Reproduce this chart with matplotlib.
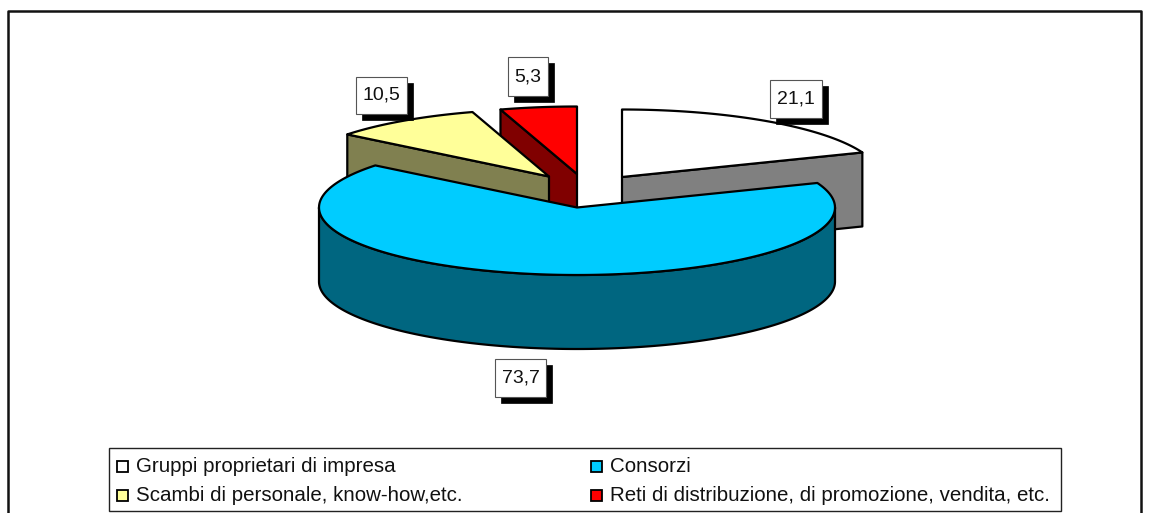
import numpy as np
import matplotlib
matplotlib.use("Agg")
import matplotlib.pyplot as plt
from matplotlib.patches import Polygon, Rectangle

plt.rcParams['font.family'] = ['Liberation Sans', 'DejaVu Sans']

categories = ["Gruppi proprietari di impresa", "Consorzi",
              "Scambi di personale, know-how,etc.",
              "Reti di distribuzione, di promozione, vendita, etc."]
values = [21.1, 73.7, 10.5, 5.3]
value_labels = ["21,1", "73,7", "10,5", "5,3"]
top_colors = ["#FFFFFF", "#00CCFF", "#FFFF99", "#FF0000"]
side_colors = ["#808080", "#006680", "#808050", "#800000"]

# pie layout, in pixels
rx, ry, depth = 258, 67.5, 74
centers = [(622, 177), (577, 207.5), (549, 176.5), (577, 174)]
boxes = [(770, 80, 52, 38), (495, 359, 51, 38), (356, 77, 51, 37), (508, 57, 40, 39)]
lw = 1.6

fig = plt.figure(figsize=(11.5, 5.13), dpi=100)
ax = fig.add_axes([0, 0, 1, 1])
ax.set_xlim(0, 1150)
ax.set_ylim(513, 0)
ax.axis("off")

# outer frame, runs off the bottom of the picture
ax.plot([8, 8, 1141, 1141], [513, 10.5, 10.5, 513], color="#111111", lw=1.8, zorder=1)


def point(c, a):
    # a is clockwise from 12 o'clock, degrees
    a = np.radians(a)
    return np.column_stack([c[0] + rx * np.sin(a), c[1] - ry * np.cos(a)])


edges = np.cumsum([0] + values) / sum(values) * 360
start = edges[:-1]
end = edges[1:]


def draw_slice(i, z):
    c = centers[i]
    s, e = start[i], end[i]
    arc = point(c, np.linspace(s, e, 200))
    # cut face seen from the front: end edge on the right half, start edge on the left
    faces = []
    if e < 180:
        faces.append(e)
    if s > 180:
        faces.append(s)
    for a in faces:
        p = point(c, np.array([a]))[0]
        face = [c, p, (p[0], p[1] + depth), (c[0], c[1] + depth)]
        ax.add_patch(Polygon(face, fc=side_colors[i], ec="black", lw=lw, zorder=z, joinstyle="round"))
    # outer wall on the near half of the rim
    lo, hi = max(s, 90), min(e, 270)
    if lo < hi:
        rim = point(c, np.linspace(lo, hi, 200))
        wall = np.vstack([rim, rim[::-1] + [0, depth]])
        ax.add_patch(Polygon(wall, fc=side_colors[i], ec="black", lw=lw, zorder=z + 0.1, joinstyle="round"))
    top = np.vstack([[c], arc])
    ax.add_patch(Polygon(top, fc=top_colors[i], ec="black", lw=lw, zorder=z + 0.2, joinstyle="round"))


# back slices first, Consorzi last
for z, i in enumerate([0, 3, 2, 1]):
    draw_slice(i, 2 + z)

# value labels with a hard shadow
for lab, (x, y, w, h) in zip(value_labels, boxes):
    ax.add_patch(Rectangle((x + 6, y + 6), w, h, fc="black", ec="black", lw=0.5, zorder=8))
    ax.add_patch(Rectangle((x, y), w, h, fc="white", ec="#555555", lw=0.8, zorder=9))
    ax.text(x + w / 2, y + h / 2, lab, ha="center", va="center", fontsize=14, color="#111111", zorder=10)

# legend
ax.add_patch(Rectangle((109, 448), 952, 63, fc="white", ec="#222222", lw=1, zorder=8))
legend_pos = [(117, 466), (591, 466), (117, 495.5), (591, 495.5)]
for name, col, (x, y) in zip(categories, top_colors, legend_pos):
    ax.add_patch(Rectangle((x, y - 5.5), 11, 11, fc=col, ec="black", lw=1.3, zorder=9))
    ax.text(x + 19, y, name, ha="left", va="center", fontsize=14.8, color="#111111", zorder=10)

fig.savefig("out.png", dpi=100)
